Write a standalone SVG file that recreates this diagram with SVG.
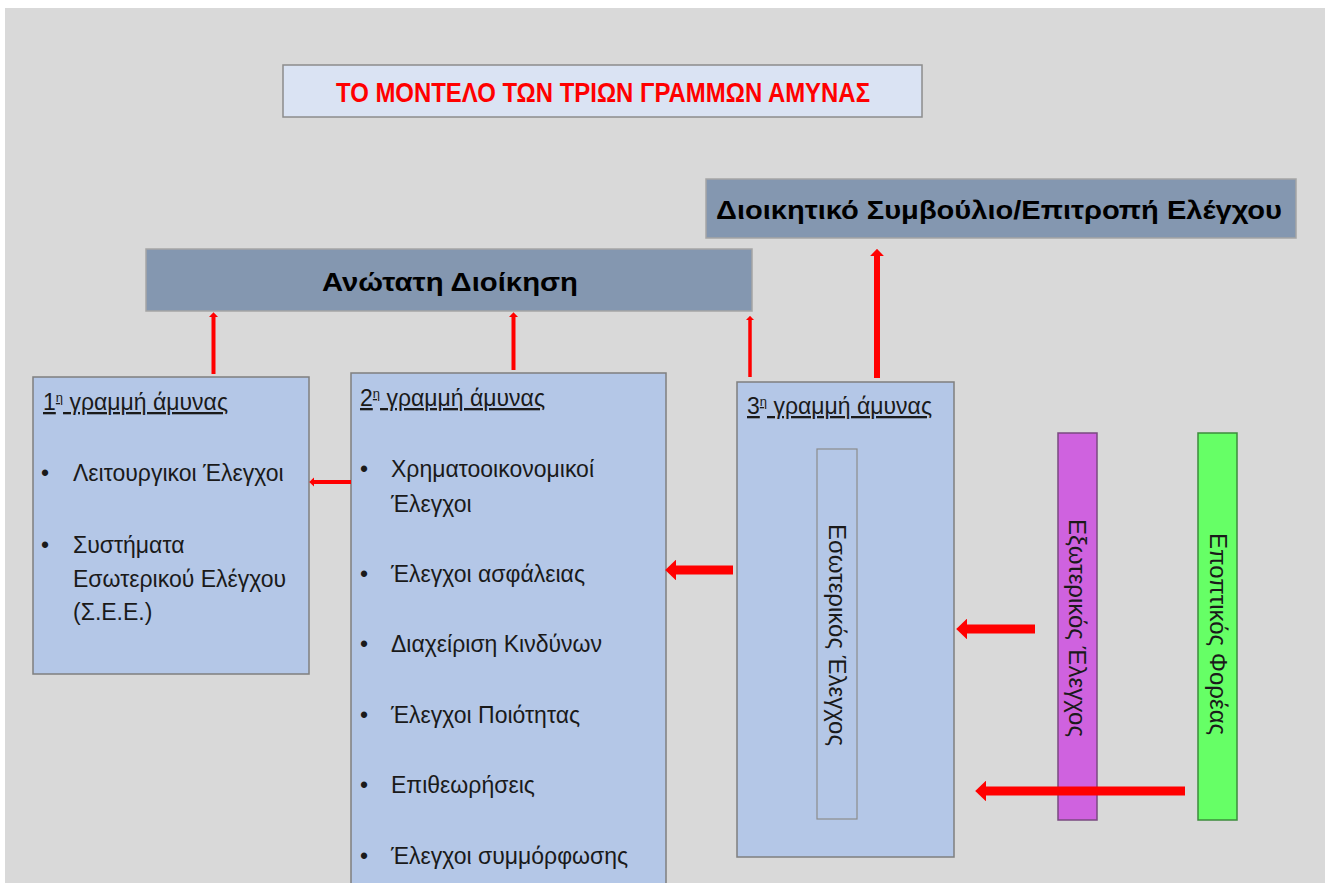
<svg xmlns="http://www.w3.org/2000/svg" width="1325" height="883" viewBox="0 0 1325 883">
<style>
  text { font-family: "Liberation Sans", Arial, sans-serif; fill: #1a1a1a; }
  .body { font-size: 23px; }
  .vert { font-size: 24px; }
  .hdr { font-size: 23px; text-decoration: underline; }
  .sup { font-size: 13px; }
  .bold { font-weight: bold; fill: #000; }
  .box { fill: #b4c7e7; stroke: #7f7f7f; stroke-width: 1.5; }
  .dark { fill: #8497b0; stroke: #a5a5a5; stroke-width: 1.5; }
  .arrow { stroke: #ff0000; fill: none; marker-end: url(#ah); }
</style>
<defs>
  <marker id="ah" viewBox="0 0 10 10" refX="0" refY="5" markerWidth="1.2" markerHeight="2.3" markerUnits="strokeWidth" preserveAspectRatio="none" orient="auto">
    <path d="M0,0 L10,5 L0,10 z" fill="#ff0000"/>
  </marker>
</defs>
<rect x="0" y="0" width="1325" height="883" fill="#ffffff"/>
<rect x="5" y="8" width="1320" height="875" fill="#d9d9d9"/>

<g id="title">
  <rect x="283" y="65" width="639" height="52" fill="#dae3f3" stroke="#8c8c8c" stroke-width="1.5"/>
  <text x="603" y="102" text-anchor="middle" font-size="27" font-weight="bold" style="fill:#ff0000" textLength="534" lengthAdjust="spacingAndGlyphs">ΤΟ ΜΟΝΤΕΛΟ ΤΩΝ ΤΡΙΩΝ ΓΡΑΜΜΩΝ ΑΜΥΝΑΣ</text>
</g>

<g id="board">
  <rect class="dark" x="706" y="179" width="590" height="59"/>
  <text class="bold" x="999" y="219" text-anchor="middle" font-size="25" textLength="566" lengthAdjust="spacingAndGlyphs">Διοικητικό Συμβούλιο/Επιτροπή Ελέγχου</text>
</g>

<g id="senior-management">
  <rect class="dark" x="146" y="249" width="606" height="62"/>
  <text class="bold" x="450" y="291" text-anchor="middle" font-size="26" textLength="256" lengthAdjust="spacingAndGlyphs">Ανώτατη Διοίκηση</text>
</g>

<g id="line1">
  <rect class="box" x="33" y="377" width="276" height="297"/>
  <text class="hdr" x="43" y="410">1<tspan class="sup" dy="-8">η</tspan><tspan dy="8"> γραμμή άμυνας</tspan></text>
  <text class="body" x="41" y="481">•</text>
  <text class="body" x="73" y="481">Λειτουργικοι Έλεγχοι</text>
  <text class="body" x="41" y="553">•</text>
  <text class="body" x="73" y="553">Συστήματα</text>
  <text class="body" x="73" y="587">Εσωτερικού Ελέγχου</text>
  <text class="body" x="73" y="620">(Σ.Ε.Ε.)</text>
</g>

<g id="line2">
  <rect class="box" x="351" y="373" width="315" height="520"/>
  <text class="hdr" x="360" y="406">2<tspan class="sup" dy="-8">η</tspan><tspan dy="8"> γραμμή άμυνας</tspan></text>
  <text class="body" x="360" y="477">•</text>
  <text class="body" x="391" y="477">Χρηματοοικονομικοί</text>
  <text class="body" x="391" y="512">Έλεγχοι</text>
  <text class="body" x="360" y="582">•</text>
  <text class="body" x="391" y="582">Έλεγχοι ασφάλειας</text>
  <text class="body" x="360" y="652">•</text>
  <text class="body" x="391" y="652">Διαχείριση Κινδύνων</text>
  <text class="body" x="360" y="723">•</text>
  <text class="body" x="391" y="723">Έλεγχοι Ποιότητας</text>
  <text class="body" x="360" y="793">•</text>
  <text class="body" x="391" y="793">Επιθεωρήσεις</text>
  <text class="body" x="360" y="864">•</text>
  <text class="body" x="391" y="864">Έλεγχοι συμμόρφωσης</text>
</g>

<g id="line3">
  <rect class="box" x="737" y="382" width="217" height="475"/>
  <text class="hdr" x="747" y="414">3<tspan class="sup" dy="-8">η</tspan><tspan dy="8"> γραμμή άμυνας</tspan></text>
</g>

<g id="internal-audit">
  <rect x="817" y="449" width="40" height="370" fill="#b4c7e7" stroke="#8c8c8c" stroke-width="1.2"/>
  <text class="vert" transform="translate(837,635) rotate(90)" text-anchor="middle" dominant-baseline="central">Εσωτερικός Έλεγχος</text>
</g>

<g id="external-audit">
  <rect x="1058" y="433" width="39" height="387" fill="#cf62df" stroke="#7a4a80" stroke-width="1.5"/>
  <text class="vert" transform="translate(1077.5,628) rotate(90)" text-anchor="middle" dominant-baseline="central">Εξωτερικός Έλεγχος</text>
</g>

<g id="supervisor">
  <rect x="1198" y="433" width="39" height="387" fill="#66ff66" stroke="#3c8c3c" stroke-width="1.5"/>
  <text class="vert" transform="translate(1218,634) rotate(90)" text-anchor="middle" dominant-baseline="central">Εποπτικός Φορέας</text>
</g>

<g id="connectors">
  <path class="arrow" stroke-width="4" d="M213.5,374 L213.5,317"/>
  <path class="arrow" stroke-width="4" d="M513.5,370 L513.5,317"/>
  <path class="arrow" stroke-width="3.5" d="M750,377 L750,320"/>
  <path class="arrow" stroke-width="6" d="M877,378 L877,256"/>
  <path class="arrow" stroke-width="4" d="M351,482 L314,482"/>
  <path class="arrow" stroke-width="9" d="M733,570 L676,570"/>
  <path class="arrow" stroke-width="9" d="M1035,629 L967,629"/>
  <path class="arrow" stroke-width="9" d="M1185,791 L986,791"/>
</g>
</svg>
